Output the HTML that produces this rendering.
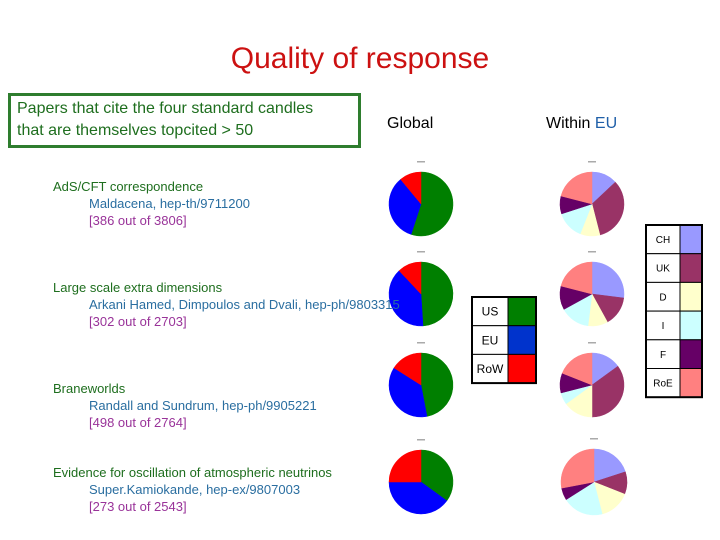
<!DOCTYPE html>
<html><head><meta charset="utf-8"><style>
body{margin:0;background:#fff}
svg{display:block;font-family:"Liberation Sans",Arial,sans-serif}
</style></head><body>
<svg id="chart" width="720" height="540" viewBox="0 0 720 540" xmlns="http://www.w3.org/2000/svg">
<rect width="720" height="540" fill="#fff"/>
<text x="360" y="68" text-anchor="middle" font-size="30" fill="#cc1111">Quality of response</text>
<rect x="9.5" y="94.5" width="350" height="52" fill="none" stroke="#2e7d2e" stroke-width="3"/>
<text x="17" y="113" font-size="16" fill="#1e6e1e">Papers that cite the four standard candles</text>
<text x="17" y="135" font-size="16" fill="#1e6e1e">that are themselves topcited &gt; 50</text>
<text x="387" y="128" font-size="16" fill="#000">Global</text>
<text x="546" y="128" font-size="16" fill="#000">Within <tspan fill="#1f5fa8">EU</tspan></text>
<g id="pies"></g>
<g id="labels"></g>
<g id="legends"></g>
</svg>
<script>
const papers = ["AdS/CFT correspondence","Large scale extra dimensions","Braneworlds","Evidence for oscillation of atmospheric neutrinos"];
const authors = ["Maldacena, hep-th/9711200","Arkani Hamed, Dimpoulos and Dvali, hep-ph/9803315","Randall and Sundrum, hep-ph/9905221","Super.Kamiokande, hep-ex/9807003"];
const counts = ["[386 out of 3806]","[302 out of 2703]","[498 out of 2764]","[273 out of 2543]"];
const globalCats = ["US","EU","RoW"];
const globalColors = ["#007f00","#0000ff","#ff0000"];
const usShare = [0.55,0.49,0.47,0.35];
const euShare = [0.34,0.39,0.37,0.40];
const rowShare = [0.11,0.12,0.16,0.25];
const euCats = ["CH","UK","D","I","F","RoE"];
const euColors = ["#9999ff","#993366","#ffffcc","#ccffff","#660066","#ff8080"];
const chShare = [0.13,0.27,0.15,0.20];
const ukShare = [0.33,0.15,0.35,0.11];
const dShare = [0.10,0.10,0.15,0.15];
const iShare = [0.14,0.15,0.06,0.20];
const fShare = [0.09,0.12,0.10,0.06];
const roeShare = [0.21,0.21,0.19,0.28];

const NS="http://www.w3.org/2000/svg";
function mk(tag,attrs,parent){const e=document.createElementNS(NS,tag);for(const k in attrs)e.setAttribute(k,attrs[k]);parent.appendChild(e);return e;}
const rowY=[204,294,385,482];
const textY=[186,287,388,472];
const labels=document.getElementById('labels');
papers.forEach((p,i)=>{
  const t1=mk('text',{x:53,y:textY[i]+5,'font-size':13,fill:'#1e6e1e'},labels);t1.textContent=p;
  
  
  const t2=mk('text',{x:89,y:textY[i]+22,'font-size':13,fill:'#2a6ea0'},labels);t2.textContent=authors[i];
  
  
  const t3=mk('text',{x:89,y:textY[i]+39,'font-size':13,fill:'#993399'},labels);t3.textContent=counts[i];
  
  
});
const pies=document.getElementById('pies');
function pie(cx,cy,r,vals,colors,name){
  const g=mk('g',{},pies);
  
  
  const tot=vals.reduce((a,b)=>a+b,0);let a0=0;
  vals.forEach((v,k)=>{
    const a1=a0+v/tot*2*Math.PI;
    const x0=cx+r*Math.sin(a0),y0=cy-r*Math.cos(a0),x1=cx+r*Math.sin(a1),y1=cy-r*Math.cos(a1);
    const large=(a1-a0)>Math.PI?1:0;
    const s=mk('path',{d:`M${cx},${cy}L${x0},${y0}A${r},${r} 0 ${large} 1 ${x1},${y1}Z`,fill:colors[k],stroke:colors[k],'stroke-width':0.5},g);
    
    
    a0=a1;
  });
  mk('rect',{x:cx-4,y:cy-r-11,width:8,height:1.5,fill:'#aaa'},g);
}
for(let i=0;i<4;i++){
  pie(421,rowY[i],32,[usShare[i],euShare[i],rowShare[i]],globalColors,'global-pie-'+(i+1));
  pie(i==3?594:592,rowY[i],i==3?33:32,[chShare[i],ukShare[i],dShare[i],iShare[i],fShare[i],roeShare[i]],euColors,'eu-pie-'+(i+1));
}
const legends=document.getElementById('legends');
function legend(x,y,wL,wC,h,cats,colors,name,fs){
  const g=mk('g',{},legends);
  
  
  cats.forEach((c,k)=>{
    mk('rect',{x:x,y:y+k*h,width:wL,height:h,fill:'#fff',stroke:'#000','stroke-width':1},g);
    mk('rect',{x:x+wL,y:y+k*h,width:wC,height:h,fill:colors[k],stroke:'#000','stroke-width':1},g);
    const t=mk('text',{x:x+wL/2,y:y+k*h+h/2+fs*0.36,'text-anchor':'middle','font-size':fs,fill:'#000'},g);t.textContent=c;
    
    
  });
  mk('rect',{x:x,y:y,width:wL+wC,height:h*cats.length,fill:'none',stroke:'#000','stroke-width':2},g);
}
legend(472,297,36,28,28.7,globalCats,["#007f00","#0033cc","#ff0000"],'global-legend',12);
legend(646,225,34,22,28.7,euCats,euColors,'eu-legend',10);
</script>
</body></html>
